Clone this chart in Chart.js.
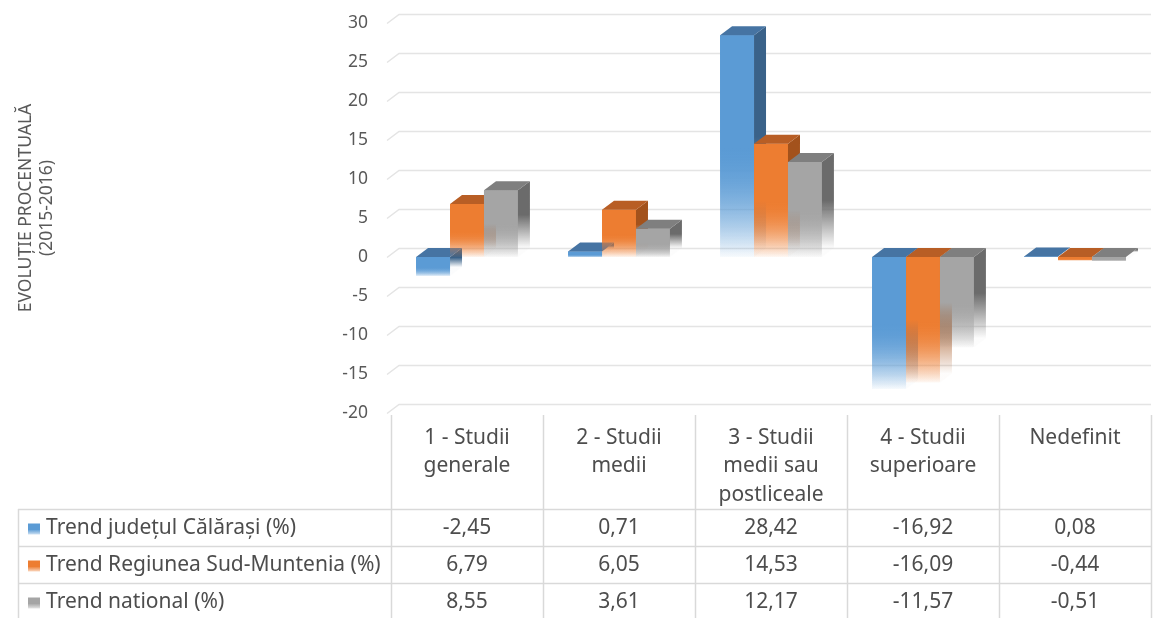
<!DOCTYPE html>
<html>
<head>
<meta charset="utf-8">
<script src="https://cdn.jsdelivr.net/npm/chart.js@4"></script>
<style>
    html, body { margin: 0; padding: 0; background: #ffffff; }
    #wrap { width: 1155px; height: 618px; }
</style>
</head>
<body>
<div id="wrap"><canvas id="myChart"></canvas></div>
<script>
// données
const categories = [
    ['1 - Studii', 'generale'],
    ['2 - Studii', 'medii'],
    ['3 - Studii', 'medii sau', 'postliceale'],
    ['4 - Studii', 'superioare'],
    ['Nedefinit']
];
const seriesNames = ['Trend județul Călărași (%)', 'Trend Regiunea Sud-Muntenia (%)', 'Trend national (%)'];
const calarasi = [-2.45, 0.71, 28.42, -16.92, 0.08];
const sudMuntenia = [6.79, 6.05, 14.53, -16.09, -0.44];
const national = [8.55, 3.61, 12.17, -11.57, -0.51];
const yMin = -20;
const yMax = 30;
const yStep = 5;
const yTitle = ['EVOLUȚIE PROCENTUALĂ', '(2015-2016)'];

const frontColors = ['#5B9BD5', '#ED7D31', '#A5A5A5'];
const topColors = ['#4674A3', '#B85E25', '#7F7F7F'];
const sideColors = ['#3A6289', '#A3521C', '#6B6B6B'];

const DX = 12;  // profondeur 3D
const DY = 9;
const FONT = '"Noto Sans", "Open Sans", sans-serif';
const TXT = '#4d4d4d';
const LINE = '#d9d9d9';

function rgba(hex, a) {
    const n = parseInt(hex.slice(1), 16);
    return 'rgba(' + (n >> 16) + ',' + ((n >> 8) & 255) + ',' + (n & 255) + ',' + a + ')';
}

function fade(ctx, hex, top, bottom) {
    const g = ctx.createLinearGradient(0, top, 0, bottom);
    g.addColorStop(0, hex);
    g.addColorStop(0.5, hex);
    g.addColorStop(1, rgba(hex, 0.02));
    return g;
}

// dégradé de la face avant, calculé avec l'échelle y
function frontFill(d) {
    return (c) => {
        const chart = c.chart;
        const y = chart.scales.y;
        if (c.type !== 'data' || !y || !chart.chartArea) return frontColors[d];
        const p1 = y.getPixelForValue(c.raw);
        const p0 = y.getPixelForValue(0);
        return fade(chart.ctx, frontColors[d], Math.min(p0, p1), Math.max(p0, p1) + 0.5);
    };
}

function fmt(v) {
    return v.toFixed(2).replace('.', ',');
}

const plugin3d = {
    id: 'bar3d',
    beforeDatasetsDraw(chart) {
        const ctx = chart.ctx;
        const y = chart.scales.y;
        const area = chart.chartArea;
        ctx.save();
        ctx.strokeStyle = '#e4e4e4';
        ctx.lineWidth = 1.5;
        for (let v = yMin; v <= yMax; v += yStep) {
            const py = Math.round(y.getPixelForValue(v)) + 0.5;
            ctx.beginPath();
            ctx.moveTo(area.left - 4, py);
            ctx.lineTo(area.left - 4 + DX, py - DY);
            ctx.lineTo(area.right, py - DY);
            ctx.stroke();
        }
        ctx.restore();
    },
    afterDatasetsDraw(chart) {
        const ctx = chart.ctx;
        const metas = [0, 1, 2].map(i => chart.getDatasetMeta(i));
        ctx.save();
        for (let i = 0; i < categories.length; i++) {
            metas.forEach((meta, d) => {
                const bar = meta.data[i];
                bar.draw(ctx);
                const p = bar.getProps(['x', 'y', 'base', 'width'], true);
                const l = p.x - p.width / 2;
                const r = p.x + p.width / 2;
                const t = Math.min(p.y, p.base);
                const b = Math.max(p.y, p.base);
                // face latérale
                ctx.fillStyle = fade(ctx, sideColors[d], t - DY, b - DY);
                ctx.beginPath();
                ctx.moveTo(r, t);
                ctx.lineTo(r + DX, t - DY);
                ctx.lineTo(r + DX, b - DY);
                ctx.lineTo(r, b);
                ctx.closePath();
                ctx.fill();
                // face du dessus
                ctx.fillStyle = topColors[d];
                ctx.beginPath();
                ctx.moveTo(l, t);
                ctx.lineTo(l + DX, t - DY);
                ctx.lineTo(r + DX, t - DY);
                ctx.lineTo(r, t);
                ctx.closePath();
                ctx.fill();
            });
        }
        ctx.restore();
    },
    afterDraw(chart) {
        const ctx = chart.ctx;
        const x = chart.scales.x;
        const area = chart.chartArea;
        const colW = (area.right - area.left) / categories.length;
        const rowTop = 509;
        const rowH = 37;
        const H = chart.height;

        ctx.save();
        // lignes du tableau
        ctx.strokeStyle = LINE;
        ctx.lineWidth = 1.5;
        for (let i = 0; i <= categories.length; i++) {
            const px = Math.round(area.left + i * colW) + 0.5;
            ctx.beginPath();
            ctx.moveTo(px, area.bottom + 2);
            ctx.lineTo(px, H);
            ctx.stroke();
        }
        for (let r = 0; r < 3; r++) {
            const py = Math.round(rowTop + r * rowH) + 0.5;
            ctx.beginPath();
            ctx.moveTo(18, py);
            ctx.lineTo(area.right, py);
            ctx.stroke();
        }
        ctx.beginPath();
        ctx.moveTo(18.5, rowTop);
        ctx.lineTo(18.5, H);
        ctx.stroke();

        // en-têtes des catégories
        ctx.fillStyle = TXT;
        ctx.font = '21px ' + FONT;
        ctx.textAlign = 'center';
        ctx.textBaseline = 'middle';
        categories.forEach((lines, i) => {
            const cx = x.getPixelForValue(i);
            lines.forEach((s, k) => ctx.fillText(s, cx, 438 + k * 28.5));
        });

        // lignes de valeurs
        const series = [calarasi, sudMuntenia, national];
        series.forEach((vals, r) => {
            const cy = rowTop + r * rowH + rowH / 2 + 1;
            ctx.fillStyle = fade(ctx, frontColors[r], cy - 6, cy + 8);
            ctx.fillRect(28, cy - 5, 12, 11);
            ctx.fillStyle = TXT;
            ctx.textAlign = 'left';
            ctx.fillText(seriesNames[r], 46, cy);
            ctx.textAlign = 'center';
            vals.forEach((v, i) => ctx.fillText(fmt(v), x.getPixelForValue(i), cy));
        });

        // titre de l'axe y
        ctx.fillStyle = '#595959';
        ctx.font = '17.5px ' + FONT;
        ctx.translate(36.5, 208);
        ctx.rotate(-Math.PI / 2);
        ctx.fillText(yTitle[0], 0, -10.5);
        ctx.fillText(yTitle[1], 0, 10.5);
        ctx.restore();
    }
};

const ctx = document.getElementById('myChart').getContext('2d');
const myChart = new Chart(ctx, {
    type: 'bar',
    data: {
        labels: categories,
        datasets: [calarasi, sudMuntenia, national].map((vals, d) => ({
            label: seriesNames[d],
            data: vals,
            backgroundColor: frontFill(d),
            borderWidth: 0,
            barPercentage: 1,
            categoryPercentage: 0.67
        }))
    },
    options: {
        responsive: true,
        maintainAspectRatio: false,
        animation: false,
        layout: { padding: { top: 23, right: 4, bottom: 205, left: 0 } },
        plugins: {
            legend: { display: false },
            tooltip: { enabled: false }
        },
        scales: {
            x: { display: false },
            y: {
                min: yMin,
                max: yMax,
                ticks: {
                    stepSize: yStep,
                    color: '#595959',
                    font: { family: FONT, size: 17.5 },
                    padding: 23
                },
                grid: { display: false, drawTicks: false },
                border: { display: false },
                afterFit(scale) {
                    scale.width = 391;
                    scale.paddingTop = 0;
                    scale.paddingBottom = 0;
                }
            }
        }
    },
    plugins: [plugin3d]
});
</script>
</body>
</html>
